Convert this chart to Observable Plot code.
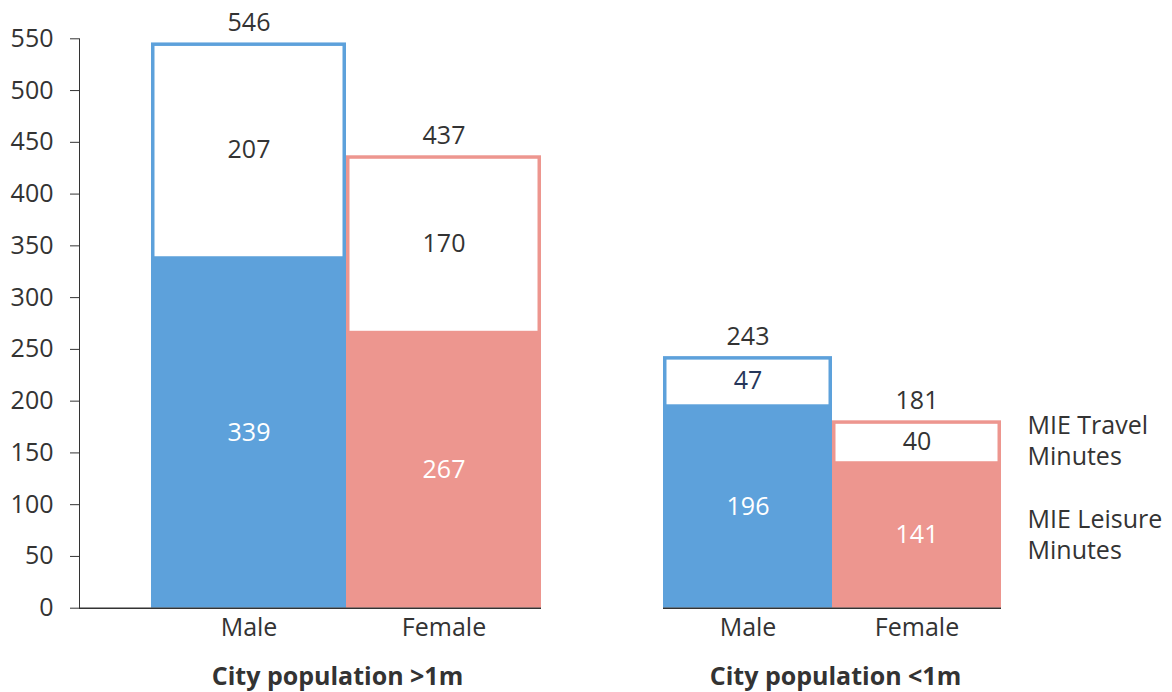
<!DOCTYPE html>
<html><head><meta charset="utf-8">
<script src="https://cdn.jsdelivr.net/npm/d3@7"></script>
<script src="https://cdn.jsdelivr.net/npm/@observablehq/plot@0.6"></script>
<style>
body{margin:0;background:#fff;font-family:"Open Sans",sans-serif;}
#wrap{display:flex;width:1172px;height:692px;}
svg{display:block;}
</style></head>
<body><div id="wrap"></div>
<script>
const groups = ["City population >1m", "City population <1m"];
const genders = ["Male", "Female"];
const leisureBig = [339, 267];
const travelBig = [207, 170];
const leisureSmall = [196, 141];
const travelSmall = [47, 40];
const genderColors = ["#5DA1DB", "#ED968F"];
const travelInk = [["#333333", "#333333"], ["#26365A", "#333333"]];
const yTicks = [0, 50, 100, 150, 200, 250, 300, 350, 400, 450, 500, 550];
const legendLabels = ["MIE Travel\nMinutes", "MIE Leisure\nMinutes"];

const INK = "#333333";
const FS = 25;

function rowsFor(gi, leisure, travel) {
  return genders.map((g, i) => ({
    gender: g, leisure: leisure[i], travel: travel[i], total: leisure[i] + travel[i],
    color: genderColors[i], ink: travelInk[gi][i]
  }));
}

function chart(gi, rows, cfg) {
  const marks = [
    Plot.barY(rows, {x: "gender", y1: 0, y2: "total", fill: "color", inset: 0}),
    Plot.barY(rows, {x: "gender", y1: "leisure", y2: "total", fill: "white",
      insetTop: 3.5, insetLeft: 3.5, insetRight: 3.5, insetBottom: 0.5}),
    Plot.ruleY([0], {stroke: INK, strokeWidth: 1.5}),
    Plot.text(rows, {x: "gender", y: "total", text: d => String(d.total), lineAnchor: "bottom", dy: -12, fontSize: FS, fill: INK}),
    Plot.text(rows, {x: "gender", y: d => d.leisure + d.travel / 2, text: d => String(d.travel), fontSize: FS, fill: "ink"}),
    Plot.text(rows, {x: "gender", y: d => d.leisure / 2, text: d => String(d.leisure), fontSize: FS, fill: "white"}),
    Plot.axisX({tickSize: 0, tickPadding: 10, fontSize: FS, label: null, fill: INK}),
    Plot.text([groups[gi]], {frameAnchor: "bottom", text: d => d, dy: 69, dx: cfg.titleDx, fontSize: 25, fontWeight: "bold", fill: INK, lineAnchor: "middle"})
  ];
  if (cfg.legend) {
    const last = rows[rows.length - 1];
    const legRows = [
      {label: legendLabels[0], y: last.leisure + last.travel / 2},
      {label: legendLabels[1], y: last.leisure / 2}
    ];
    marks.push(Plot.text(legRows, {frameAnchor: "right", y: "y", text: "label", textAnchor: "start", dx: 26, dy: -2, fontSize: FS, fill: INK, lineHeight: 1.24}));
  }
  return Plot.plot({
    width: cfg.width, height: 692,
    marginLeft: cfg.marginLeft, marginRight: cfg.marginRight, marginTop: 38.3, marginBottom: 84.3,
    x: {domain: genders, range: cfg.xRange, padding: 0, axis: null},
    y: cfg.yAxis
      ? {domain: [0, 550], axis: "left", ticks: yTicks, tickSize: 9, tickPadding: 17, label: null, line: true}
      : {domain: [0, 550], axis: null},
    style: {fontFamily: "Open Sans, sans-serif", fontSize: "25px", color: INK, background: "white", overflow: "visible"},
    marks
  });
}

const c1 = chart(0, rowsFor(0, leisureBig, travelBig), {
  width: 560, marginLeft: 79, marginRight: 19, xRange: [150, 541], yAxis: true, titleDx: 27
});
const c2 = chart(1, rowsFor(1, leisureSmall, travelSmall), {
  width: 612, marginLeft: 103, marginRight: 171, xRange: [103, 441], yAxis: false, legend: true, titleDx: 3
});
document.getElementById("wrap").append(c1, c2);
</script>
</body></html>
